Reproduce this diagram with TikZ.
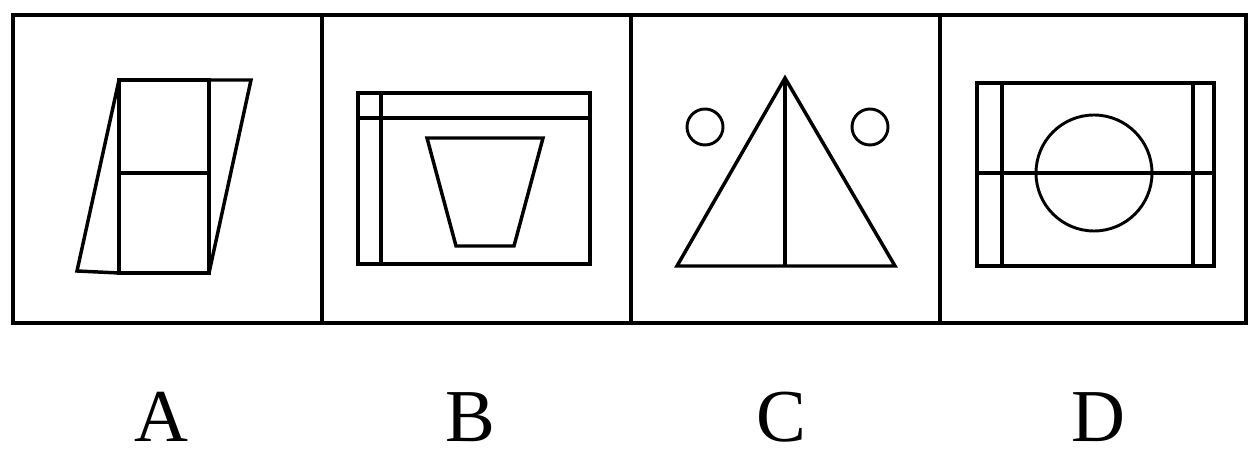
\documentclass[tikz,border=0pt]{standalone}
\usepackage{fontspec}
\setmainfont{Liberation Serif}
\usetikzlibrary{positioning}

\begin{document}
\begin{tikzpicture}[
        x=0.75pt, y=-0.75pt,
        % Define styles for the frame, the figures and the letters
        frame_line/.style={line width=3pt},
        fig_line/.style={line width=2.6pt, line join=miter},
        option_label/.style={anchor=base, inner sep=0pt, font=\fontsize{56}{60}\selectfont}
    ]
    \useasboundingbox (0,0) rectangle (1254,459);

    % Outer frame and dividers
    \draw [frame_line] (13,15) rectangle (1246,323);
    \foreach \xd in {322,631,940}
        \draw [frame_line] (\xd,15) -- (\xd,323);

    % Panel A: rectangle split in two, with a parallelogram behind it
    \draw [fig_line] (119,80) rectangle (209,273);
    \draw [fig_line] (119,173) -- (209,173);
    \draw [fig_line] (77,271) -- (119,80) -- (251,80) -- (209,273) -- (119,273) -- (77,271) -- cycle;

    % Panel B: frame with a bar and a trapezium
    \draw [fig_line] (358,93) rectangle (590,264);
    \draw [fig_line] (358,118) -- (590,118);
    \draw [fig_line] (381,93) -- (381,264);
    \draw [fig_line] (427,138) -- (543,138) -- (514,246) -- (456,246) -- cycle;

    % Panel C: split triangle and two small circles
    \draw [fig_line] (785,78) -- (895,266) -- (677,266) -- cycle;
    \draw [fig_line] (785,78) -- (785,266);
    \draw [fig_line, line width=2.2pt] (705,127) circle (18);
    \draw [fig_line, line width=2.2pt] (870,127) circle (18);

    % Panel D: frame with two bars, a cross line and a circle
    \draw [fig_line] (977,83) rectangle (1214,266);
    \draw [fig_line] (1002,83) -- (1002,266);
    \draw [fig_line] (1193,83) -- (1193,266);
    \draw [fig_line] (977,173) -- (1214,173);
    \draw [fig_line, line width=2.2pt] (1094,173) circle (58);

    % Option letters
    \node (lab_a) [option_label] at (161,442) {A};
    \node (lab_b) [option_label] at (470,442) {B};
    \node (lab_c) [option_label] at (781,442) {C};
    \node (lab_d) [option_label] at (1098,442) {D};

\end{tikzpicture}
\end{document}
